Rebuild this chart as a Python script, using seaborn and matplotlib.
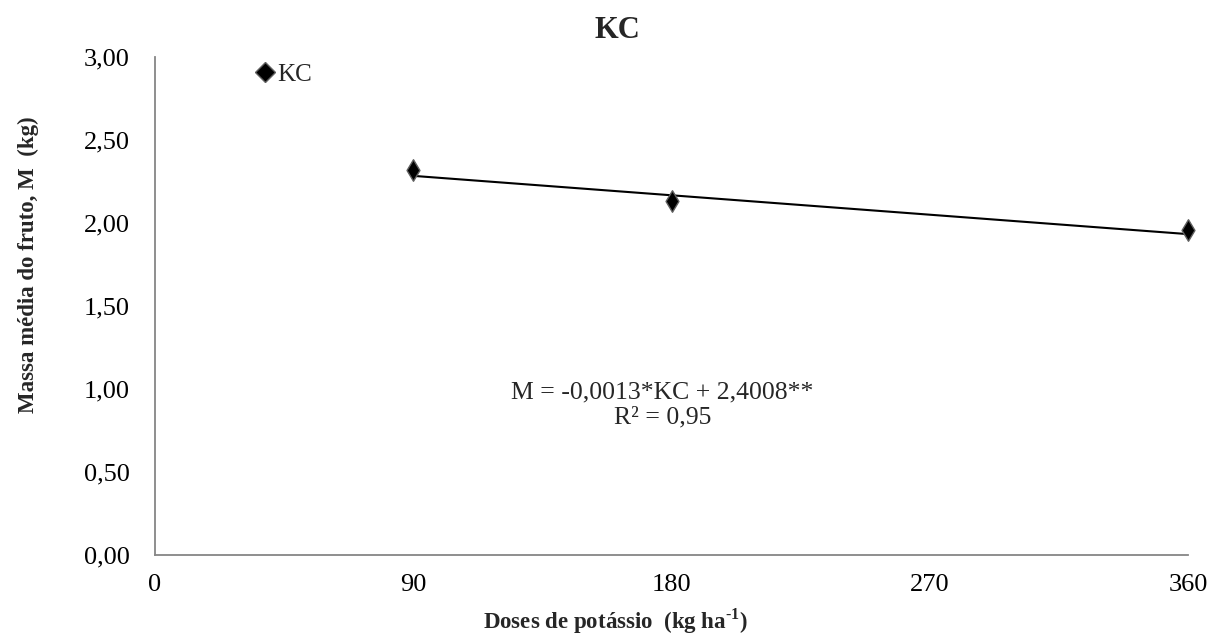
import matplotlib
matplotlib.use("Agg")
import matplotlib.pyplot as plt
import seaborn as sns
import pandas as pd
from matplotlib.lines import Line2D
from matplotlib.ticker import FuncFormatter

# data
doses = [90, 180, 360]
massa = [2.32, 2.13, 1.96]
trend_x = [90, 360]
trend_y = [2.284, 1.933]
x_ticks = [0, 90, 180, 270, 360]
y_ticks = [0.0, 0.5, 1.0, 1.5, 2.0, 2.5, 3.0]
series_name = "KC"
equation = "M = -0,0013*KC + 2,4008**\nR² = 0,95"

sns.set_theme(style="white")
plt.rcParams['font.family'] = ['Liberation Serif', 'DejaVu Serif']
plt.rcParams['mathtext.fontset'] = 'custom'
plt.rcParams['mathtext.rm'] = 'Liberation Serif'
plt.rcParams['mathtext.bf'] = 'Liberation Serif:bold'

W, H = 1223, 639
fig = plt.figure(figsize=(W / 100, H / 100), dpi=100)
ax = fig.add_axes([155 / W, 1 - 555 / H, 1033 / W, 498 / H])

df = pd.DataFrame({"x": doses, "y": massa})
tdf = pd.DataFrame({"x": trend_x, "y": trend_y})
sns.lineplot(data=tdf, x="x", y="y", ax=ax, color="black", linewidth=1.5, zorder=2)
sns.scatterplot(data=df, x="x", y="y", ax=ax, marker="d", s=120, color="black",
                edgecolor="#606060", linewidth=1, zorder=3, clip_on=False)

ax.set_xlim(0, 360)
ax.set_ylim(0, 3)
ax.set_xticks(x_ticks)
ax.set_yticks(y_ticks)
ax.yaxis.set_major_formatter(FuncFormatter(lambda v, p: f"{v:.2f}".replace(".", ",")))
ax.xaxis.set_major_formatter(FuncFormatter(lambda v, p: f"{int(v)}"))

for s in ["top", "right"]:
    ax.spines[s].set_visible(False)
for s in ["left", "bottom"]:
    ax.spines[s].set_color("#868686")
    ax.spines[s].set_linewidth(1.3)
ax.tick_params(axis="both", which="major", direction="out", length=7, width=1.3,
               color="#868686", labelsize=19, labelcolor="black")
ax.tick_params(axis="x", pad=7)
ax.tick_params(axis="y", pad=11)

ax.set_xlabel("Doses de potássio  (kg ha$^{\\mathbf{\u20101}}$)", fontsize=16.5, fontweight="bold")
ax.xaxis.set_label_coords(615 / W, 1 - 606 / H, transform=fig.transFigure)
ax.set_ylabel("Massa média do fruto, M  (kg)", fontsize=16.5, fontweight="bold")
ax.yaxis.set_label_coords(39 / W, 1 - 265 / H, transform=fig.transFigure)
ax.set_title("KC", fontsize=22, fontweight="bold", pad=14, x=(617 - 155) / 1033)

ax.text(0.491, 0.301, equation, transform=ax.transAxes, ha="center", va="center",
        fontsize=18.5, linespacing=1.17)

handle = Line2D([], [], marker="D", color="black", markeredgecolor="#606060",
                linestyle="none", markersize=10)
ax.legend([handle], [series_name], loc="center left", bbox_to_anchor=(0.094, 0.964),
          frameon=False, fontsize=18, handletextpad=0.0, handlelength=1.0,
          borderaxespad=0, borderpad=0)

fig.savefig("out.png", dpi=100)
